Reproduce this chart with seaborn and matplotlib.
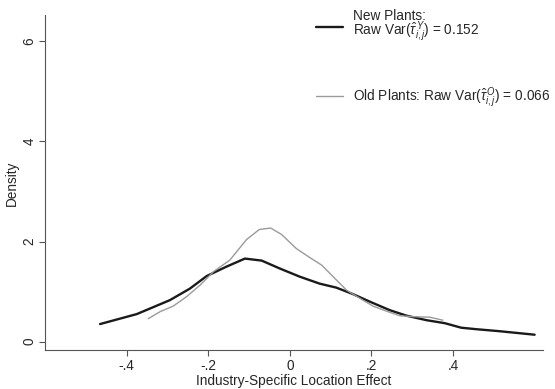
import matplotlib
matplotlib.use("Agg")
import matplotlib.pyplot as plt
import seaborn as sns
import pandas as pd
import numpy as np

new_x = [-0.465, -0.375, -0.294, -0.245, -0.204, -0.155, -0.110, -0.069, -0.024, 0.024,
         0.073, 0.114, 0.155, 0.196, 0.245, 0.286, 0.335, 0.380, 0.420, 0.457, 0.514, 0.600]
new_y = [0.353, 0.552, 0.83, 1.06, 1.31, 1.50, 1.66, 1.62, 1.46, 1.30,
         1.16, 1.08, 0.95, 0.80, 0.63, 0.52, 0.43, 0.37, 0.28, 0.25, 0.21, 0.14]

old_x = [-0.347, -0.318, -0.286, -0.253, -0.220, -0.187, -0.147, -0.106, -0.075, -0.047,
         -0.020, 0.016, 0.049, 0.078, 0.106, 0.139, 0.171, 0.204, 0.237, 0.269, 0.302, 0.343, 0.375]
old_y = [0.46, 0.60, 0.71, 0.90, 1.13, 1.40, 1.63, 2.04, 2.24, 2.27,
         2.14, 1.86, 1.68, 1.53, 1.30, 1.03, 0.87, 0.71, 0.61, 0.52, 0.50, 0.49, 0.43]

label_new = "New Plants:\nRaw Var($\\hat{\\tau}_{i,j}^{\\,Y}$) = 0.152"
label_old = "Old Plants: Raw Var($\\hat{\\tau}_{i,j}^{\\,O}$) = 0.066"

x_ticks = [-0.4, -0.2, 0, 0.2, 0.4]
x_ticklabels = ["-.4", "-.2", "0", ".2", ".4"]
y_ticks = [0, 2, 4, 6]

df = pd.DataFrame({
    "x": new_x + old_x,
    "y": new_y + old_y,
    "series": [label_new] * len(new_x) + [label_old] * len(old_x),
})

sns.set_style("white")
plt.rcParams["font.family"] = ["Liberation Sans", "DejaVu Sans"]
plt.rcParams["mathtext.fontset"] = "custom"
plt.rcParams["mathtext.rm"] = "Liberation Sans"
plt.rcParams["mathtext.it"] = "Liberation Sans:italic"

FS = 9.8

fig = plt.figure(figsize=(5.55, 3.89), dpi=100)
ax = fig.add_axes([0.0811, 0.099, 0.978 - 0.0811, 0.961 - 0.099])

sns.lineplot(data=df, x="x", y="y", hue="series", sort=False, estimator=None,
             palette={label_new: "#1a1a1a", label_old: "#9a9a9a"}, ax=ax, legend=True)
for line, lw in zip(ax.lines, [1.7, 1.0]):
    line.set_linewidth(lw)

ax.set_xlim(-0.600, 0.620)
ax.set_ylim(-0.175, 6.52)
ax.set_xticks(x_ticks)
ax.set_xticklabels(x_ticklabels)
ax.set_yticks(y_ticks)
ax.set_yticklabels([str(t) for t in y_ticks], rotation=90, va="center")
ax.set_xlabel("Industry-Specific Location Effect", fontsize=FS, labelpad=1)
ax.set_ylabel("Density", fontsize=FS, labelpad=3)
ax.tick_params(axis="both", labelsize=FS, length=4, width=0.8, color="#555555",
               direction="out", pad=2)
ax.tick_params(axis="both", which="both", bottom=True, left=True)
for s in ["top", "right"]:
    ax.spines[s].set_visible(False)
for s in ["left", "bottom"]:
    ax.spines[s].set_color("#555555")
    ax.spines[s].set_linewidth(0.8)

handles, labels = ax.get_legend_handles_labels()
for h, lw in zip(handles, [1.7, 1.0]):
    h.set_linewidth(lw)
leg = ax.legend(handles, labels, loc="upper right", frameon=False, fontsize=FS,
                labelspacing=3.0, handlelength=2.0, handletextpad=0.7,
                bbox_to_anchor=(1.025, 1.035), borderaxespad=0.0)
for t in leg.get_texts():
    t.set_linespacing(0.8)

fig.savefig("out.png", dpi=100)
